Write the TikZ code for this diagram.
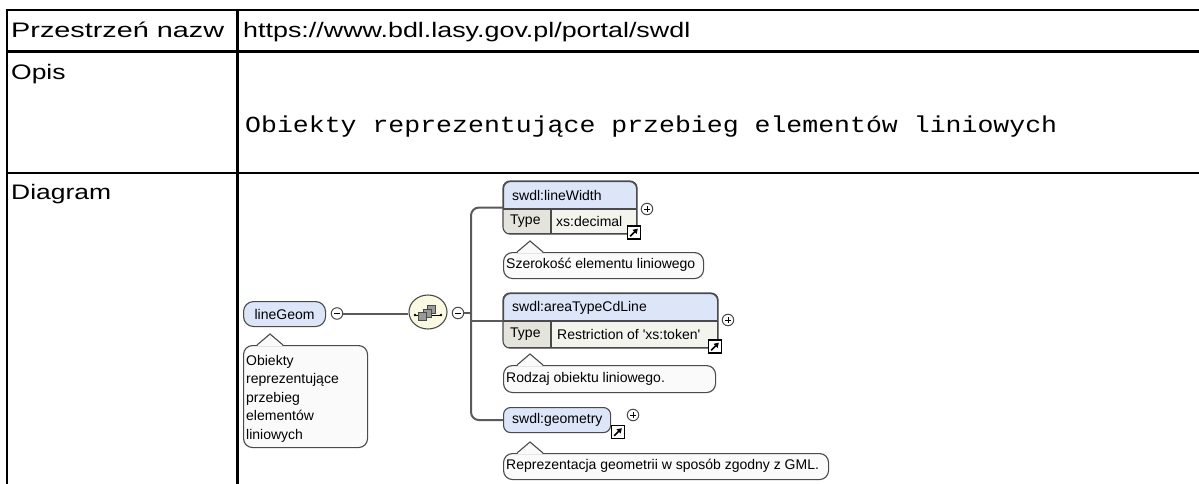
\documentclass[tikz,border=0pt]{standalone}
\usepackage{fontspec}
\setmainfont{Liberation Sans}
\newfontfamily\monofont{Liberation Mono}
\usetikzlibrary{arrows.meta,shapes.geometric}
\definecolor{hdr}{HTML}{DCE6F8}
\definecolor{edge}{HTML}{4A4A4A}
\definecolor{conncol}{HTML}{5A5A5A}
\definecolor{typec}{HTML}{E4E4DC}
\definecolor{valc}{HTML}{F4F4EF}
\definecolor{annof}{HTML}{FAFAFA}
\definecolor{seqf}{HTML}{FAFAE2}
\definecolor{sqf}{HTML}{9A9A9A}
\tikzset{
  tline/.style={line width=2.4pt, black},
  bigtxt/.style={inner sep=0, font=\fontsize{21}{25}\selectfont},
  dtxt/.style={inner sep=0, font=\fontsize{14}{17}\selectfont, text=black},
  elem/.style={draw=edge, line width=1.1pt, fill=hdr, rounded corners=7, inner sep=0, anchor=north west},
  anno/.style={draw=edge, line width=1.1pt, fill=annof, rounded corners=9, inner sep=0, anchor=north west},
  pm/.style={circle, draw=edge, line width=1pt, fill=white, minimum size=11.5pt, inner sep=0},
  conn/.style={draw=conncol, line width=2pt},
  lnk/.style={draw=black, line width=1.2pt, fill=white, minimum size=13pt, inner sep=0},
  seqnode/.style={ellipse, draw=edge, line width=1.1pt, fill=seqf, minimum width=38pt, minimum height=34pt, inner sep=0},
}
\newcommand\mycallout[1]{%
  \fill[annof] ([xshift=14pt,yshift=-1.2pt]#1.north west) -- ([xshift=27pt,yshift=11pt]#1.north west) -- ([xshift=40pt,yshift=-1.2pt]#1.north west) -- cycle;
  \draw[edge, line width=1.1pt] ([xshift=14pt]#1.north west) -- ([xshift=27pt,yshift=11pt]#1.north west) -- ([xshift=40pt]#1.north west);}
\newcommand\myplus[1]{\draw[black, line width=0.9pt] ([xshift=-3pt]#1.center) -- ([xshift=3pt]#1.center) ([yshift=-3pt]#1.center) -- ([yshift=3pt]#1.center);}
\newcommand\myminus[1]{\draw[black, line width=0.9pt] ([xshift=-3pt]#1.center) -- ([xshift=3pt]#1.center);}
\newcommand\mylink[1]{\draw[black, line width=1.6pt, -{Triangle[length=4.5pt,width=5.5pt]}] ([xshift=-3.8pt,yshift=-3.8pt]#1.center) -- ([xshift=3.8pt,yshift=3.8pt]#1.center);}
\begin{document}
\begin{tikzpicture}[x=1pt,y=-1pt]
\useasboundingbox (0,0) rectangle (1199,484);
\fill[white] (0,0) rectangle (1199,484);
% ---------- table ----------
\draw[tline] (7,10) -- (1210,10);
\draw[tline] (7,51.5) -- (1210,51.5);
\draw[tline] (7,173) -- (1210,173);
\draw[tline] (7,8.8) -- (7,495);
\draw[tline] (237.5,8.8) -- (237.5,495);
\node[bigtxt, anchor=base west] (ns) at (11,38) {\resizebox{213pt}{\height}{Przestrzeń nazw}};
\node[bigtxt, anchor=base west] (url) at (243,38) {\resizebox{447pt}{\height}{https://www.bdl.lasy.gov.pl/portal/swdl}};
\node[bigtxt, anchor=base west] (opis) at (11,80) {\scalebox{1.26}[1]{Opis}};
\node[bigtxt, anchor=base west] (diag) at (11,199) {\scalebox{1.26}[1]{Diagram}};
\node[inner sep=0, anchor=base west, font=\fontsize{23}{27}\monofont] (desc) at (245,132) {\resizebox{812pt}{\height}{Obiekty reprezentujące przebieg elementów liniowych}};
% ---------- diagram: root ----------
\node[elem, rounded corners=10, minimum width=82pt, minimum height=25pt] (lg) at (243,301) {};
\node[dtxt] (lgt) at (lg.center) {lineGeom};
\node[pm] (lgm) at (337,313.5) {};
\myminus{lgm}
\node[seqnode] (seq) at (428,312) {};
\node[pm] (seqm) at (458,313) {};
\myminus{seqm}
\draw[conn] (lgm.east) -- (seq.west |- lgm.east);
% sequence icon
\draw[black, line width=0.9pt] (415,315) -- (441,315);
\fill[black] (415,315) circle (1.3pt) (441,315) circle (1.3pt);
\draw[edge, fill=sqf, line width=0.7pt] (427,305) rectangle (435,313);
\draw[edge, fill=sqf, line width=0.7pt] (423,309) rectangle (431,317);
\draw[edge, fill=sqf, line width=0.7pt] (418.5,312.5) rectangle (426.5,320.5);
% root annotation
\node[anno, minimum width=124pt, minimum height=102pt] (lga) at (243,345) {};
\mycallout{lga}
\node[dtxt, anchor=base west] (lga1) at (246,365) {Obiekty};
\node[dtxt, anchor=base west] (lga2) at (246,383.5) {reprezentujące};
\node[dtxt, anchor=base west] (lga3) at (246,402) {przebieg};
\node[dtxt, anchor=base west] (lga4) at (246,420.5) {elementów};
\node[dtxt, anchor=base west] (lga5) at (246,439) {liniowych};
% ---------- child 1: lineWidth ----------
\node[elem, minimum width=133pt, minimum height=52pt] (lw) at (503,181) {};
\begin{scope}
  \clip[rounded corners=7] (lw.north west) rectangle (lw.south east);
  \fill[typec] (503,209) rectangle (551,233);
  \fill[valc] (551,209) rectangle (636,233);
\end{scope}
\draw[edge, line width=1.1pt, rounded corners=7] (lw.north west) rectangle (lw.south east);
\draw[edge, line width=1.1pt] (503,209) -- (636,209) (551,209) -- (551,233);
\node[dtxt, anchor=west] (lwn) at (512,195) {swdl:lineWidth};
\node[dtxt, anchor=west] (lwt) at (510,221.5) {Type};
\node[dtxt, anchor=west] (lwv) at (556,221.5) {xs:decimal};
\node[pm] (lwp) at (647,209) {};
\myplus{lwp}
\node[lnk] (lwl) at (634,232.5) {};
\mylink{lwl}
\node[anno, minimum width=200pt, minimum height=26pt] (lwa) at (503,252) {};
\mycallout{lwa}
\node[dtxt, anchor=west] (lwat) at (506,265) {Szerokość elementu liniowego};
% ---------- child 2: areaTypeCdLine ----------
\node[elem, minimum width=214pt, minimum height=54pt] (atc) at (503,293) {};
\begin{scope}
  \clip[rounded corners=7] (atc.north west) rectangle (atc.south east);
  \fill[typec] (503,321) rectangle (551,347);
  \fill[valc] (551,321) rectangle (717,347);
\end{scope}
\draw[edge, line width=1.1pt, rounded corners=7] (atc.north west) rectangle (atc.south east);
\draw[edge, line width=1.1pt] (503,321) -- (717,321) (551,321) -- (551,347);
\node[dtxt, anchor=west] (atcn) at (512,307.5) {swdl:areaTypeCdLine};
\node[dtxt, anchor=west] (atct) at (510,334.5) {Type};
\node[dtxt, anchor=west] (atcv) at (557,334.5) {Restriction of \textquotesingle xs:token\textquotesingle};
\node[pm] (atcp) at (728,320) {};
\myplus{atcp}
\node[lnk] (atcl) at (715,346.5) {};
\mylink{atcl}
\node[anno, minimum width=212pt, minimum height=27pt] (atca) at (503,365) {};
\mycallout{atca}
\node[dtxt, anchor=west] (atcat) at (506,378.5) {Rodzaj obiektu liniowego.};
% ---------- child 3: geometry ----------
\node[elem, minimum width=107pt, minimum height=25pt] (geo) at (503,407) {};
\node[dtxt, anchor=west] (geon) at (512,419.5) {swdl:geometry};
\node[pm] (geop) at (633,415) {};
\myplus{geop}
\node[lnk] (geol) at (618,432) {};
\mylink{geol}
\node[anno, minimum width=325pt, minimum height=26pt] (geoa) at (503,453) {};
\mycallout{geoa}
\node[dtxt, anchor=west] (geoat) at (506,466) {Reprezentacja geometrii w sposób zgodny z GML.};
% ---------- connectors ----------
\coordinate (bus) at (471,313);
\draw[conn] (seqm.east) -- (bus);
\draw[conn, rounded corners=8] (lw.west) -| (bus) |- (geo.west);
\draw[conn] (bus |- atc.west) -- (atc.west);
\end{tikzpicture}
\end{document}
